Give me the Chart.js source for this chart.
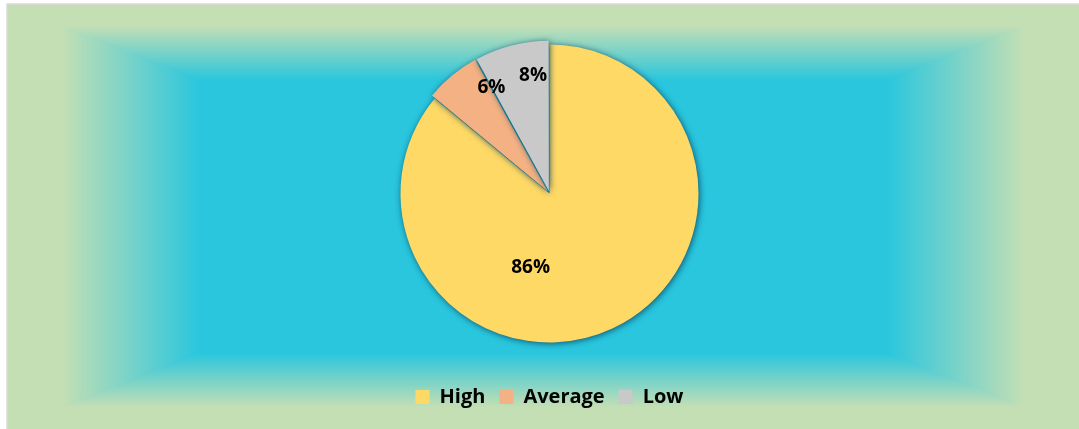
<!DOCTYPE html>
<html>
<head>
<meta charset="utf-8">
<script src="https://cdn.jsdelivr.net/npm/chart.js@4.4.1/dist/chart.umd.min.js"></script>
<style>
  html, body { margin: 0; padding: 0; background: #fff; }
  #wrap { width: 1079px; height: 429px; }
</style>
</head>
<body>
<div id="wrap"><canvas id="pie" width="1079" height="429"></canvas></div>
<script>
const categories = ['High', 'Average', 'Low'];
const shares = [86, 6, 8];
const sliceColors = ['#FFD966', '#F4B183', '#C9C9C9'];
const explode = [0, 10, 10];

// rectangle gradient behind the chart, like the Excel fill (built once per pixel)
let bgCanvas = null;
function buildBackground(w, h) {
  const c = document.createElement('canvas');
  c.width = w; c.height = h;
  const g = c.getContext('2d');
  const img = g.createImageData(w, h);
  const x0 = 7, y0 = 4;
  const cx = (x0 + w) / 2, cy = (y0 + h) / 2;
  const hw = w - cx, hh = h - cy;
  const edge = [197, 223, 180], mid = [41, 198, 222];
  for (let y = 0; y < h; y++) {
    for (let x = 0; x < w; x++) {
      const k = (y * w + x) * 4;
      let col;
      if (x < x0 || y < y0) {
        col = [255, 255, 255];
      } else {
        const t = Math.max(Math.abs(x + 0.5 - cx) / hw, Math.abs(y + 0.5 - cy) / hh);
        let s = (t - 0.64) / (0.9 - 0.64);
        s = Math.min(1, Math.max(0, s));
        col = mid.map((m, i) => m + (edge[i] - m) * s);
      }
      img.data[k] = col[0]; img.data[k + 1] = col[1]; img.data[k + 2] = col[2]; img.data[k + 3] = 255;
    }
  }
  g.putImageData(img, 0, 0);
  g.strokeStyle = '#D9D9D9';
  g.lineWidth = 1.5;
  g.beginPath();
  g.moveTo(x0, h);
  g.lineTo(x0, y0);
  g.lineTo(w, y0);
  g.stroke();
  return c;
}

const panelBackground = {
  id: 'panelBackground',
  beforeDraw(chart) {
    if (!bgCanvas) bgCanvas = buildBackground(chart.width, chart.height);
    chart.ctx.drawImage(bgCanvas, 0, 0);
  }
};

// soft shadow under the slices
const sliceShadow = {
  id: 'sliceShadow',
  beforeDatasetsDraw(chart) {
    const ctx = chart.ctx;
    ctx.save();
    ctx.shadowColor = 'rgba(10,70,95,0.9)';
    ctx.shadowBlur = 6;
    ctx.shadowOffsetX = 1;
    ctx.shadowOffsetY = 1;
  },
  afterDatasetsDraw(chart) {
    chart.ctx.restore();
  }
};

// percentage labels, placed relative to the pie centre
const labelSpots = [[-0.127, 0.5], [-0.39, -0.71], [-0.11, -0.79]];
const sliceLabels = {
  id: 'sliceLabels',
  afterDatasetsDraw(chart) {
    const ctx = chart.ctx;
    const arcs = chart.getDatasetMeta(0).data;
    const r = arcs[0].outerRadius;
    const cx = arcs[0].x, cy = arcs[0].y;
    ctx.save();
    ctx.fillStyle = '#000';
    ctx.font = 'bold 19px "Open Sans", sans-serif';
    ctx.textAlign = 'center';
    ctx.textBaseline = 'middle';
    shares.forEach((v, i) => {
      ctx.fillText(v + '%', cx + labelSpots[i][0] * r, cy + labelSpots[i][1] * r);
    });
    ctx.restore();
  }
};

new Chart(document.getElementById('pie'), {
  type: 'pie',
  data: {
    labels: categories,
    datasets: [{
      data: shares,
      backgroundColor: sliceColors,
      borderWidth: 0,
      offset: explode
    }]
  },
  options: {
    responsive: false,
    animation: false,
    radius: 149,
    layout: { padding: { top: 14, bottom: 12, left: 20, right: 0 } },
    plugins: {
      tooltip: { enabled: false },
      legend: {
        position: 'bottom',
        labels: {
          boxWidth: 14,
          boxHeight: 14,
          padding: 14,
          color: '#000',
          font: { family: '"Open Sans", sans-serif', size: 20, weight: 'bold' }
        }
      }
    }
  },
  plugins: [panelBackground, sliceShadow, sliceLabels]
});
</script>
</body>
</html>
